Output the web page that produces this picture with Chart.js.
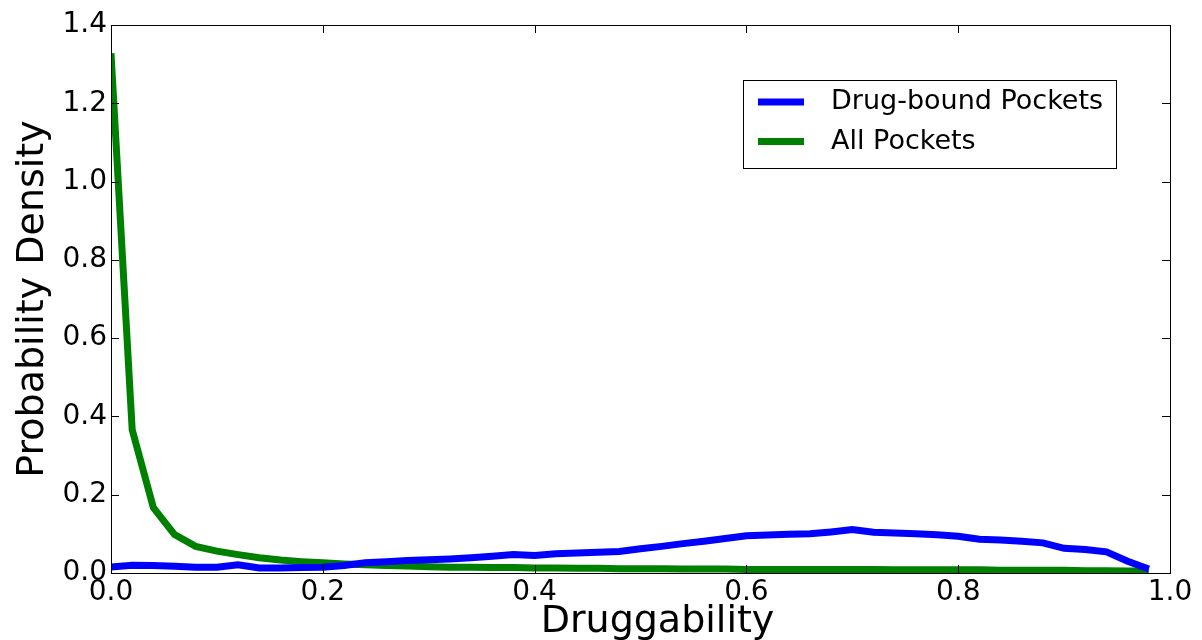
<!DOCTYPE html>
<html>
<head>
<meta charset="utf-8">
<script src="https://cdn.jsdelivr.net/npm/chart.js@4"></script>
<style>
body{margin:0;background:#fff}
#wrap{width:1202px;height:640px}
</style>
</head>
<body>
<div id="wrap"><canvas id="Chart"></canvas></div>
<script>
let xs = [0,0.02,0.04,0.06,0.08,0.1,0.12,0.14,0.16,0.18,0.2,0.22,0.24,0.26,0.28,0.3,0.32,0.34,0.36,0.38,0.4,0.42,0.44,0.46,0.48,0.5,0.52,0.54,0.56,0.58,0.6,0.62,0.64,0.66,0.68,0.7,0.72,0.74,0.76,0.78,0.8,0.82,0.84,0.86,0.88,0.9,0.92,0.94,0.96,0.98]
let drugBound = [0.015,0.02,0.019,0.017,0.015,0.015,0.021,0.013,0.013,0.014,0.015,0.019,0.026,0.029,0.032,0.034,0.036,0.039,0.043,0.047,0.045,0.049,0.051,0.053,0.055,0.062,0.068,0.075,0.081,0.088,0.095,0.097,0.099,0.1,0.105,0.111,0.104,0.102,0.1,0.098,0.094,0.086,0.084,0.081,0.077,0.063,0.06,0.054,0.03,0.01]
let allPockets = [1.328,0.366,0.167,0.098,0.068,0.056,0.047,0.039,0.033,0.029,0.026,0.023,0.021,0.019,0.018,0.016,0.015,0.015,0.014,0.014,0.013,0.013,0.012,0.012,0.011,0.011,0.011,0.010,0.010,0.010,0.009,0.009,0.009,0.009,0.009,0.009,0.009,0.008,0.008,0.008,0.008,0.008,0.007,0.007,0.007,0.007,0.006,0.006,0.005,0.005]
let xTicks = [0,0.2,0.4,0.6,0.8,1.0]
let yTicks = [0,0.2,0.4,0.6,0.8,1.0,1.2,1.4]
let seriesNames = ["Drug-bound Pockets","All Pockets"]
let xTitle = "Druggability"
let yTitle = "Probability Density"

function pts(ys){
	let out = []
	for(let i=0;i<xs.length;i++){
		out.push({x:xs[i], y:ys[i]})
	}
	return out
}

let font = "DejaVu Sans"

// frame, inward ticks, x title and legend box like matplotlib
let framePlugin = {
	id:"frame",
	afterDraw(chart){
		let c = chart.ctx
		let a = chart.chartArea
		let sx = chart.scales.x
		let sy = chart.scales.y
		c.save()
		c.strokeStyle = "#000"
		c.lineWidth = 1
		c.strokeRect(a.left+0.5, a.top+0.5, a.right-a.left, a.bottom-a.top)
		c.beginPath()
		xTicks.forEach(function(v){
			let p = Math.round(sx.getPixelForValue(v))+0.5
			c.moveTo(p,a.bottom); c.lineTo(p,a.bottom-8)
			c.moveTo(p,a.top); c.lineTo(p,a.top+8)
		})
		yTicks.forEach(function(v){
			let p = Math.round(sy.getPixelForValue(v))+0.5
			c.moveTo(a.left,p); c.lineTo(a.left+8,p)
			c.moveTo(a.right,p); c.lineTo(a.right-8,p)
		})
		c.stroke()

		c.fillStyle = "#000"
		c.font = "38px '"+font+"'"
		c.textAlign = "center"
		c.textBaseline = "alphabetic"
		c.fillText(xTitle, (a.left+a.right)/2+17, 632)

		// legend
		let bx = 743, by = 80, bw = 373, bh = 88
		c.fillStyle = "#fff"
		c.fillRect(bx,by,bw,bh)
		c.strokeRect(bx+0.5,by+0.5,bw,bh)
		c.font = "27px '"+font+"'"
		c.textAlign = "left"
		c.textBaseline = "middle"
		chart.data.datasets.forEach(function(ds,i){
			let ly = 102 + i*39.5
			c.strokeStyle = ds.borderColor
			c.lineWidth = 7
			c.beginPath(); c.moveTo(758,ly); c.lineTo(804,ly); c.stroke()
			c.fillStyle = "#000"
			c.fillText(ds.label, 831, ly)
		})
		c.restore()
	}
}

new Chart("Chart",{
	type:"line",
	data:{
		datasets:[
			{label:seriesNames[0], data:pts(drugBound), borderColor:"#0000ff", backgroundColor:"#0000ff", borderWidth:7, pointRadius:0, tension:0, clip:0},
			{label:seriesNames[1], data:pts(allPockets), borderColor:"#008000", backgroundColor:"#008000", borderWidth:7, pointRadius:0, tension:0, clip:0}
		]
	},
	options:{
		responsive:true,
		maintainAspectRatio:false,
		animation:false,
		layout:{padding:{top:25,right:32,left:0,bottom:0}},
		plugins:{legend:{display:false}, tooltip:{enabled:false}},
		scales:{
			x:{
				type:"linear", min:0, max:1,
				afterBuildTicks(s){ s.ticks = xTicks.map(function(v){return {value:v}}) },
				afterFit(s){ s.height = 67; s.paddingLeft = 0; s.paddingRight = 0 },
				grid:{display:false, drawTicks:false},
				border:{display:false},
				ticks:{color:"#000", padding:3, maxRotation:0, font:{family:font,size:28}, callback:function(v){return v.toFixed(1)}},
				title:{display:false}
			},
			y:{
				min:0, max:1.4,
				afterBuildTicks(s){ s.ticks = yTicks.map(function(v){return {value:v}}) },
				afterFit(s){ s.width = 111; s.paddingTop = 0; s.paddingBottom = 0 },
				grid:{display:false, drawTicks:false},
				border:{display:false},
				ticks:{color:"#000", padding:4, font:{family:font,size:28}, callback:function(v){return v.toFixed(1)}},
				title:{display:true, text:yTitle, color:"#000", font:{family:font,size:38}, padding:{top:10,bottom:0}}
			}
		}
	},
	plugins:[framePlugin]
})
</script>
</body>
</html>
